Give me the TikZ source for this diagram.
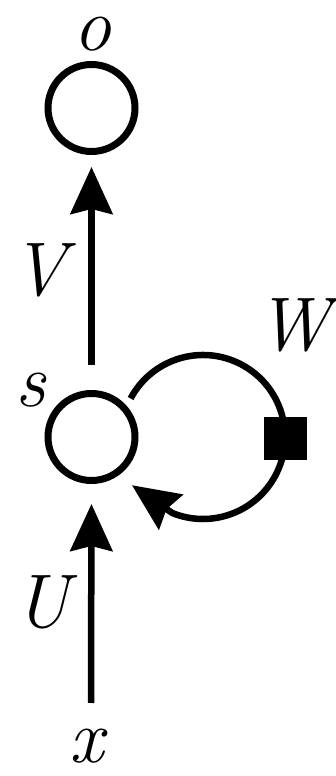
\documentclass[tikz,border=0pt]{standalone}
\usepackage{fontspec}
\usetikzlibrary{arrows.meta}
\begin{document}
\begin{tikzpicture}[x=1pt,y=1pt,
  unit/.style={circle,draw,line width=7pt,minimum size=87pt,inner sep=0pt},
  lbl/.style={inner sep=0pt,font=\fontsize{76}{90}\selectfont\itshape},
  conn/.style={line width=6.5pt,-{Stealth[length=47pt,width=42pt,inset=5pt]}},
  gate/.style={rectangle,fill=black,minimum size=43pt,inner sep=0pt}]
\useasboundingbox (0,0) rectangle (335,776);
\node[unit] (o) at (91.5,668) {};
\node[unit] (s) at (91.5,339) {};
\node[lbl] (lo) at (92,742) {o};
\node[lbl] (lv) at (39,506) {V};
\node[lbl] (lw) at (294,451) {W};
\node[lbl] (ls) at (31,386) {s};
\node[lbl] (lu) at (42,174) {U};
\node[lbl] (lx) at (87,30) {x};
\coordinate (ubot) at (91,73);
\coordinate (lc) at (203,339);
\coordinate (ltip) at ([shift={(-50:63)}]s.center);
\draw[conn,shorten <=25pt,shorten >=12pt] (s.north) -- (o.south);
\draw[conn,shorten >=20pt] (ubot) -- (s.south);
\draw[conn] ([shift={(152:82)}]lc) arc[start angle=152,end angle=-112,radius=82] -- (ltip);
\node[gate] (g) at (285,337) {};
\end{tikzpicture}
\end{document}
